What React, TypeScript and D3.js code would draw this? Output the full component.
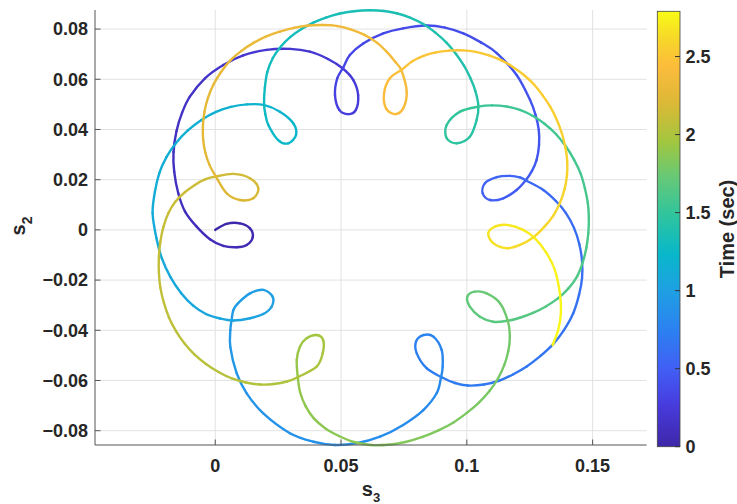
import React from "react"
import * as d3 from "d3"

const width = 737
const height = 504

// axes box and colorbar box, in pixels
const plot = { left: 95, right: 646.7, top: 10, bottom: 445 }
const bar = { left: 657.3, right: 680, top: 11.3, bottom: 446.7 }

const font = "'Liberation Sans', Arial, Helvetica, sans-serif"
const ink = "#262626"

// trace, piece by piece: [time (s), s3, s2]
const startLoop = [
  [0, 0, 0], [0.012, 0.0045, 0.0024], [0.024, 0.0098, 0.0026], [0.036, 0.0138, 0.0006],
  [0.046, 0.0149, -0.0029], [0.056, 0.0125, -0.0060], [0.066, 0.0085, -0.0069],
  [0.076, 0.0032, -0.0064], [0.086, -0.0021, -0.0037],
]
const arc01 = [
  [0.095, -0.0074, 0.0013], [0.103, -0.0120, 0.0073], [0.111, -0.0147, 0.0146],
  [0.120, -0.0163, 0.0231], [0.129, -0.0166, 0.0310], [0.138, -0.0154, 0.0394],
  [0.146, -0.0132, 0.0466], [0.154, -0.0101, 0.0531], [0.165, -0.0041, 0.0604],
  [0.176, 0.0032, 0.0657], [0.187, 0.0111, 0.0695], [0.198, 0.0204, 0.0717],
  [0.208, 0.0297, 0.0721], [0.216, 0.0376, 0.0710], [0.224, 0.0448, 0.0681],
  [0.231, 0.0506, 0.0644],
]
const loop1 = [
  [0.240, 0.0549, 0.0597], [0.252, 0.0568, 0.0537], [0.265, 0.0559, 0.0478],
  [0.275, 0.0529, 0.0461], [0.287, 0.0493, 0.0478], [0.300, 0.0476, 0.0537],
  [0.315, 0.0485, 0.0604], [0.330, 0.0510, 0.0649],
]
const arc12 = [
  [0.336, 0.0535, 0.0697], [0.345, 0.0588, 0.0743], [0.355, 0.0668, 0.0783],
  [0.364, 0.0747, 0.0803], [0.374, 0.0840, 0.0814], [0.382, 0.0913, 0.0806],
  [0.391, 0.0986, 0.0783], [0.399, 0.1056, 0.0747], [0.406, 0.1119, 0.0704],
  [0.418, 0.1198, 0.0617], [0.428, 0.1251, 0.0518], [0.435, 0.1273, 0.0458],
  [0.442, 0.1286, 0.0398], [0.449, 0.1287, 0.0338], [0.456, 0.1277, 0.0278],
  [0.463, 0.1259, 0.0235], [0.470, 0.1235, 0.0199],
]
const loop2 = [
  [0.479, 0.1198, 0.0159], [0.490, 0.1145, 0.0126], [0.500, 0.1092, 0.0119],
  [0.510, 0.1063, 0.0146], [0.520, 0.1072, 0.0186], [0.533, 0.1119, 0.0210],
  [0.546, 0.1171, 0.0215], [0.556, 0.1211, 0.0209], [0.570, 0.1239, 0.0195],
]
const arc23 = [
  [0.578, 0.1304, 0.0159], [0.585, 0.1354, 0.0115], [0.592, 0.1394, 0.0067],
  [0.600, 0.1426, 0.0008], [0.608, 0.1447, -0.0056], [0.616, 0.1458, -0.0124],
  [0.624, 0.1458, -0.0192], [0.632, 0.1446, -0.0259], [0.641, 0.1423, -0.0332],
  [0.649, 0.1386, -0.0399], [0.656, 0.1343, -0.0455], [0.664, 0.1293, -0.0502],
  [0.672, 0.1238, -0.0544], [0.680, 0.1183, -0.0576], [0.687, 0.1128, -0.0601],
  [0.694, 0.1068, -0.0616], [0.701, 0.1004, -0.0620], [0.707, 0.0953, -0.0610],
  [0.713, 0.0900, -0.0587],
]
const loop3 = [
  [0.722, 0.0840, -0.0551], [0.735, 0.0801, -0.0492], [0.745, 0.0798, -0.0445],
  [0.755, 0.0827, -0.0419], [0.766, 0.0867, -0.0425], [0.780, 0.0900, -0.0478],
  [0.795, 0.0904, -0.0545], [0.810, 0.0897, -0.0590],
]
const arc34 = [
  [0.817, 0.0880, -0.0651], [0.826, 0.0827, -0.0718], [0.836, 0.0747, -0.0777],
  [0.846, 0.0655, -0.0824], [0.856, 0.0562, -0.0850], [0.863, 0.0476, -0.0857],
  [0.874, 0.0390, -0.0844], [0.884, 0.0297, -0.0810], [0.898, 0.0191, -0.0731],
  [0.909, 0.0125, -0.0651], [0.919, 0.0085, -0.0571], [0.931, 0.0060, -0.0467],
  [0.940, 0.0060, -0.0399], [0.947, 0.0065, -0.0359],
]
const loop4 = [
  [0.956, 0.0072, -0.0319], [0.962, 0.0091, -0.0292], [0.973, 0.0138, -0.0253],
  [0.985, 0.0191, -0.0239], [0.997, 0.0228, -0.0266], [1.008, 0.0224, -0.0306],
  [1.018, 0.0191, -0.0335], [1.030, 0.0138, -0.0352], [1.045, 0.0072, -0.0361],
]
const arc45 = [
  [1.054, 0.0019, -0.0353], [1.061, -0.0037, -0.0335], [1.068, -0.0089, -0.0301],
  [1.076, -0.0136, -0.0251], [1.084, -0.0178, -0.0188], [1.093, -0.0212, -0.0114],
  [1.101, -0.0234, -0.0032], [1.111, -0.0249, 0.0066], [1.120, -0.0240, 0.0151],
  [1.128, -0.0222, 0.0227], [1.136, -0.0194, 0.0290], [1.144, -0.0156, 0.0346],
  [1.152, -0.0109, 0.0396], [1.160, -0.0055, 0.0438], [1.167, 0.0003, 0.0470],
  [1.175, 0.0062, 0.0490], [1.183, 0.0126, 0.0500], [1.190, 0.0192, 0.0498],
]
const loop5 = [
  [1.200, 0.0257, 0.0471], [1.212, 0.0310, 0.0425], [1.222, 0.0321, 0.0378],
  [1.235, 0.0290, 0.0345], [1.247, 0.0250, 0.0358], [1.262, 0.0211, 0.0418],
  [1.275, 0.0199, 0.0462], [1.290, 0.0194, 0.0502],
]
const arc56 = [
  [1.297, 0.0197, 0.0565], [1.303, 0.0207, 0.0629], [1.309, 0.0229, 0.0685],
  [1.315, 0.0261, 0.0731], [1.321, 0.0299, 0.0769], [1.327, 0.0343, 0.0800],
  [1.333, 0.0390, 0.0826], [1.339, 0.0440, 0.0846], [1.345, 0.0492, 0.0861],
  [1.352, 0.0551, 0.0871], [1.359, 0.0615, 0.0875], [1.365, 0.0671, 0.0872],
  [1.371, 0.0721, 0.0863], [1.377, 0.0774, 0.0846], [1.383, 0.0827, 0.0820],
  [1.389, 0.0875, 0.0786], [1.395, 0.0920, 0.0745], [1.401, 0.0957, 0.0701],
  [1.407, 0.0988, 0.0655], [1.413, 0.1014, 0.0605], [1.420, 0.1034, 0.0553],
  [1.430, 0.1046, 0.0494],
]
const loop6 = [
  [1.440, 0.1039, 0.0438], [1.452, 0.1012, 0.0371], [1.465, 0.0960, 0.0345],
  [1.477, 0.0920, 0.0365], [1.490, 0.0920, 0.0418], [1.505, 0.0973, 0.0471],
  [1.530, 0.1046, 0.0491],
]
const arc67 = [
  [1.537, 0.1100, 0.0496], [1.543, 0.1155, 0.0492], [1.549, 0.1211, 0.0478],
  [1.555, 0.1263, 0.0454], [1.561, 0.1310, 0.0422], [1.567, 0.1354, 0.0382],
  [1.573, 0.1394, 0.0332], [1.579, 0.1426, 0.0280], [1.585, 0.1452, 0.0225],
  [1.591, 0.1469, 0.0167], [1.597, 0.1481, 0.0107], [1.603, 0.1485, 0.0047],
  [1.609, 0.1483, -0.0012], [1.615, 0.1475, -0.0072], [1.621, 0.1461, -0.0128],
  [1.628, 0.1438, -0.0186], [1.634, 0.1404, -0.0233], [1.640, 0.1362, -0.0273],
  [1.646, 0.1314, -0.0305], [1.652, 0.1263, -0.0331], [1.658, 0.1211, -0.0350],
  [1.665, 0.1162, -0.0362],
]
const loop7 = [
  [1.675, 0.1105, -0.0366], [1.687, 0.1052, -0.0346], [1.699, 0.1012, -0.0306],
  [1.710, 0.1002, -0.0266], [1.722, 0.1032, -0.0246], [1.735, 0.1079, -0.0253],
  [1.750, 0.1132, -0.0292], [1.770, 0.1163, -0.0363],
]
const arc78 = [
  [1.776, 0.1171, -0.0425], [1.782, 0.1165, -0.0482], [1.788, 0.1149, -0.0538],
  [1.794, 0.1124, -0.0592], [1.800, 0.1090, -0.0642], [1.806, 0.1048, -0.0688],
  [1.812, 0.1000, -0.0729], [1.818, 0.0947, -0.0767], [1.825, 0.0887, -0.0799],
  [1.831, 0.0824, -0.0825], [1.838, 0.0756, -0.0845], [1.845, 0.0686, -0.0856],
  [1.852, 0.0619, -0.0857], [1.859, 0.0551, -0.0845], [1.865, 0.0492, -0.0821],
  [1.871, 0.0438, -0.0791], [1.877, 0.0392, -0.0751], [1.884, 0.0359, -0.0702],
  [1.892, 0.0337, -0.0646], [1.905, 0.0328, -0.0586],
]
const loop8 = [
  [1.918, 0.0324, -0.0518], [1.928, 0.0337, -0.0465], [1.938, 0.0363, -0.0432],
  [1.950, 0.0403, -0.0419], [1.962, 0.0429, -0.0439], [1.975, 0.0427, -0.0492],
  [1.988, 0.0403, -0.0545], [2.005, 0.0330, -0.0586],
]
const arc89 = [
  [2.011, 0.0285, -0.0604], [2.017, 0.0233, -0.0614], [2.023, 0.0178, -0.0616],
  [2.030, 0.0122, -0.0608], [2.036, 0.0066, -0.0592], [2.042, 0.0013, -0.0566],
  [2.048, -0.0037, -0.0534], [2.054, -0.0083, -0.0496], [2.060, -0.0122, -0.0453],
  [2.066, -0.0156, -0.0403], [2.072, -0.0184, -0.0349], [2.078, -0.0204, -0.0291],
  [2.084, -0.0218, -0.0231], [2.090, -0.0224, -0.0170], [2.096, -0.0224, -0.0108],
  [2.102, -0.0218, -0.0046], [2.108, -0.0206, 0.0012], [2.114, -0.0186, 0.0067],
  [2.120, -0.0158, 0.0113], [2.126, -0.0122, 0.0149], [2.132, -0.0081, 0.0179],
  [2.137, -0.0041, 0.0201], [2.142, -0.0001, 0.0212],
]
const loop9 = [
  [2.152, 0.0072, 0.0223], [2.165, 0.0138, 0.0206], [2.178, 0.0171, 0.0166],
  [2.190, 0.0151, 0.0126], [2.203, 0.0098, 0.0119], [2.218, 0.0045, 0.0146],
  [2.240, 0.0001, 0.0215],
]
const arc910 = [
  [2.246, -0.0023, 0.0259], [2.251, -0.0039, 0.0306], [2.256, -0.0048, 0.0358],
  [2.262, -0.0049, 0.0414], [2.267, -0.0043, 0.0470], [2.273, -0.0029, 0.0526],
  [2.279, -0.0007, 0.0579], [2.285, 0.0023, 0.0629], [2.291, 0.0060, 0.0675],
  [2.297, 0.0104, 0.0713], [2.303, 0.0152, 0.0745], [2.309, 0.0203, 0.0771],
  [2.315, 0.0257, 0.0790], [2.321, 0.0313, 0.0805], [2.327, 0.0370, 0.0814],
  [2.333, 0.0428, 0.0816], [2.339, 0.0486, 0.0812], [2.345, 0.0541, 0.0798],
  [2.351, 0.0593, 0.0777], [2.357, 0.0641, 0.0747], [2.363, 0.0682, 0.0709],
  [2.369, 0.0716, 0.0669], [2.375, 0.0740, 0.0635],
]
const loop10 = [
  [2.387, 0.0761, 0.0551], [2.399, 0.0747, 0.0484], [2.410, 0.0714, 0.0461],
  [2.422, 0.0679, 0.0484], [2.435, 0.0671, 0.0544], [2.450, 0.0694, 0.0604],
  [2.475, 0.0742, 0.0639],
]
const arc1011 = [
  [2.481, 0.0782, 0.0671], [2.487, 0.0828, 0.0693], [2.493, 0.0877, 0.0707],
  [2.499, 0.0929, 0.0714], [2.505, 0.0983, 0.0715], [2.511, 0.1036, 0.0709],
  [2.517, 0.1088, 0.0695], [2.523, 0.1138, 0.0675], [2.529, 0.1183, 0.0649],
  [2.535, 0.1227, 0.0617], [2.541, 0.1267, 0.0579], [2.547, 0.1302, 0.0535],
  [2.553, 0.1332, 0.0490], [2.559, 0.1358, 0.0438], [2.565, 0.1378, 0.0384],
  [2.571, 0.1392, 0.0328], [2.577, 0.1399, 0.0273], [2.583, 0.1398, 0.0217],
  [2.589, 0.1388, 0.0161], [2.595, 0.1370, 0.0107], [2.601, 0.1344, 0.0057],
  [2.608, 0.1308, 0.0012], [2.620, 0.1265, -0.0029],
]
const loop11 = [
  [2.632, 0.1211, -0.0060], [2.645, 0.1158, -0.0073], [2.658, 0.1105, -0.0053],
  [2.670, 0.1085, -0.0014], [2.682, 0.1112, 0.0013], [2.694, 0.1158, 0.0020],
  [2.708, 0.1224, 0.0000], [2.720, 0.1271, -0.0034],
]
const endArc = [
  [2.731, 0.1317, -0.0093], [2.742, 0.1350, -0.0160], [2.756, 0.1370, -0.0253],
  [2.767, 0.1374, -0.0332], [2.778, 0.1363, -0.0399], [2.790, 0.1341, -0.0459],
]

const trace = [
  ...startLoop, ...arc01, ...loop1, ...arc12, ...loop2, ...arc23, ...loop3, ...arc34,
  ...loop4, ...arc45, ...loop5, ...arc56, ...loop6, ...arc67, ...loop7, ...arc78,
  ...loop8, ...arc89, ...loop9, ...arc910, ...loop10, ...arc1011, ...loop11, ...endArc,
]

const xTicks = [0, 0.05, 0.1, 0.15]
const yTicks = [-0.08, -0.06, -0.04, -0.02, 0, 0.02, 0.04, 0.06, 0.08]
const timeTicks = [0, 0.5, 1, 1.5, 2, 2.5]
const xDomain = [-0.0478, 0.1715]
const yDomain = [-0.0857, 0.0876]
const timeMax = 2.79

// parula, sampled by eye
const parulaStops = [0, 0.1, 0.18, 0.27, 0.36, 0.445, 0.53, 0.615, 0.7, 0.79, 0.875, 0.94, 1]
const parulaColors = [
  "#3e26a8", "#473ddf", "#415ff5", "#2b82f0", "#1ea0e3", "#08b8c9", "#2ec49e",
  "#63c979", "#a2c63f", "#dcb836", "#fdbc3c", "#f6d928", "#f9fb15",
]

const xScale = d3.scaleLinear().domain(xDomain).range([plot.left, plot.right])
const yScale = d3.scaleLinear().domain(yDomain).range([plot.bottom, plot.top])
const barScale = d3.scaleLinear().domain([0, timeMax]).range([bar.bottom, bar.top])
const parula = d3.scaleLinear<string>()
  .domain(parulaStops.map(s => s * timeMax))
  .range(parulaColors)
  .interpolate(d3.interpolateRgb)
  .clamp(true)

const fmtX = d3.format("~g")
const fmtY = (v: number) => (v === 0 ? "0" : d3.format(".2f")(v))

// one cubic piece of a Catmull-Rom spline between samples i and i+1
function piece(pts: [number, number][], i: number) {
  const n = pts.length
  const p0 = pts[Math.max(i - 1, 0)]
  const p1 = pts[i]
  const p2 = pts[i + 1]
  const p3 = pts[Math.min(i + 2, n - 1)]
  const p = d3.path()
  p.moveTo(p1[0], p1[1])
  p.bezierCurveTo(
    p1[0] + (p2[0] - p0[0]) / 6, p1[1] + (p2[1] - p0[1]) / 6,
    p2[0] - (p3[0] - p1[0]) / 6, p2[1] - (p3[1] - p1[1]) / 6,
    p2[0], p2[1]
  )
  return p.toString()
}

function App() {
  const pts: [number, number][] = trace.map(d => [xScale(d[1]), yScale(d[2])])
  const gradStops = d3.range(0, 1.0001, 0.02)

  return (
    <svg width={width} height={height} style={{ position: "absolute", left: 0, top: 0, background: "#fff" }}>
      <defs>
        <linearGradient id="parula" x1="0" y1="1" x2="0" y2="0">
          {gradStops.map(o => (
            <stop key={o} offset={o} stopColor={parula(o * timeMax)} />
          ))}
        </linearGradient>
      </defs>

      {/* grid */}
      {xTicks.map(v => (
        <line key={"gx" + v} x1={xScale(v)} x2={xScale(v)} y1={plot.top} y2={plot.bottom} stroke="#e2e2e2" />
      ))}
      {yTicks.map(v => (
        <line key={"gy" + v} x1={plot.left} x2={plot.right} y1={yScale(v)} y2={yScale(v)} stroke="#e2e2e2" />
      ))}

      {/* trace coloured by time */}
      <g fill="none" strokeWidth={2.4} strokeLinecap="round">
        {d3.range(pts.length - 1).map(i => (
          <path key={i} d={piece(pts, i)} stroke={parula((trace[i][0] + trace[i + 1][0]) / 2)} />
        ))}
      </g>

      {/* axes */}
      <g stroke="#555" strokeWidth={1}>
        <line x1={plot.left} x2={plot.left} y1={plot.top} y2={plot.bottom} />
        <line x1={plot.left} x2={plot.right} y1={plot.bottom} y2={plot.bottom} />
        {xTicks.map(v => (
          <line key={"tx" + v} x1={xScale(v)} x2={xScale(v)} y1={plot.bottom} y2={plot.bottom - 5.5} />
        ))}
        {yTicks.map(v => (
          <line key={"ty" + v} x1={plot.left} x2={plot.left + 5.5} y1={yScale(v)} y2={yScale(v)} />
        ))}
      </g>

      <g fontFamily={font} fontWeight="bold" fontSize={18} fill={ink}>
        {xTicks.map(v => (
          <text key={"lx" + v} x={xScale(v)} y={472} textAnchor="middle">{fmtX(v)}</text>
        ))}
        {yTicks.map(v => (
          <text key={"ly" + v} x={88} y={yScale(v) + 6.3} textAnchor="end">{fmtY(v)}</text>
        ))}
        {timeTicks.map(v => (
          <text key={"lc" + v} x={685.5} y={barScale(v) + 6.3}>{fmtX(v)}</text>
        ))}
      </g>

      {/* axis labels */}
      <g fontFamily={font} fontWeight="bold" fontSize={20} fill={ink}>
        <text x={371} y={496} textAnchor="middle">
          s<tspan fontSize={13} dy={6}>3</tspan>
        </text>
        <text transform="translate(25,226) rotate(-90)" textAnchor="middle">
          s<tspan fontSize={14} dy={7}>2</tspan>
        </text>
        <text transform="translate(734,229) rotate(-90)" textAnchor="middle">Time (sec)</text>
      </g>

      {/* colorbar */}
      <rect x={bar.left} y={bar.top} width={bar.right - bar.left} height={bar.bottom - bar.top}
        fill="url(#parula)" stroke="#444" strokeWidth={0.8} />
      <g stroke="#333" strokeWidth={1}>
        {timeTicks.map(v => (
          <line key={"tc" + v} x1={bar.right - 5} x2={bar.right} y1={barScale(v)} y2={barScale(v)} />
        ))}
      </g>
    </svg>
  )
}

export default App
